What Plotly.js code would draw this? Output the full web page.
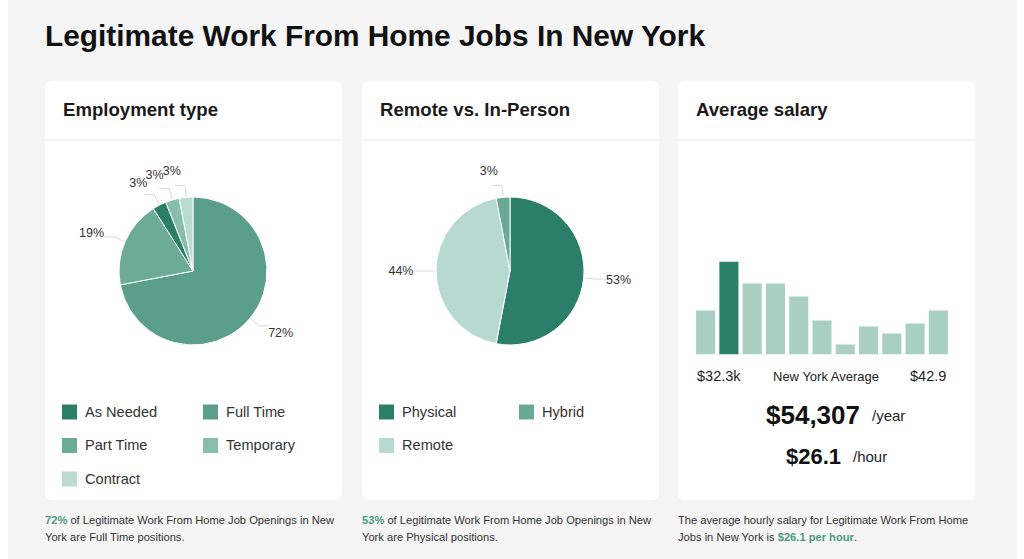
<!DOCTYPE html>
<html>
<head>
<meta charset="utf-8">
<script src="https://cdn.plot.ly/plotly-3.0.1.min.js"></script>
<style>
html,body{margin:0;padding:0;background:#fff;}
#chart{width:1024px;height:559px;}
</style>
</head>
<body>
<div id="chart"></div>
<script>
// ---- data ----
var empLabels = ['Full Time', 'Part Time', 'As Needed', 'Temporary', 'Contract'];
var empValues = [72, 19, 3, 3, 3];
var empColors = ['#5b9e89', '#6cab96', '#2b7f69', '#88bdac', '#b9dbd0'];
var empLegendOrder = ['As Needed', 'Full Time', 'Part Time', 'Temporary', 'Contract'];

var remoteLabels = ['Physical', 'Remote', 'Hybrid'];
var remoteValues = [53, 44, 3];
var remoteColors = ['#2b7f69', '#b8d9cf', '#6aaa94'];
var remoteLegendOrder = ['Physical', 'Hybrid', 'Remote'];

var salaryBins = ['b1','b2','b3','b4','b5','b6','b7','b8','b9','b10','b11'];
var salaryCounts = [44, 93, 71, 71, 58, 34, 10, 28, 21, 31, 44];
var highlightBin = 1;
var salaryMinLabel = '$32.3k';
var salaryMaxLabel = '$42.9';
var salaryYear = '$54,307';
var salaryHour = '$26.1';

// ---- helpers (pixel -> paper) ----
var W = 1024, H = 559;
function px(x){ return x / W; }
function py(y){ return 1 - y / H; }
var FONT = 'Liberation Sans, Arial, Helvetica, sans-serif';

var shapes = [];
var annotations = [];

// page background
shapes.push({type:'rect', xref:'paper', yref:'paper', x0:px(8), x1:px(1017), y0:0, y1:1,
  fillcolor:'#f5f5f5', line:{width:0}, layer:'below'});

function roundRect(x0, y0, x1, y1, r){
  var p = 'M ' + px(x0 + r) + ',' + py(y0) +
    ' L ' + px(x1 - r) + ',' + py(y0) +
    ' Q ' + px(x1) + ',' + py(y0) + ' ' + px(x1) + ',' + py(y0 + r) +
    ' L ' + px(x1) + ',' + py(y1 - r) +
    ' Q ' + px(x1) + ',' + py(y1) + ' ' + px(x1 - r) + ',' + py(y1) +
    ' L ' + px(x0 + r) + ',' + py(y1) +
    ' Q ' + px(x0) + ',' + py(y1) + ' ' + px(x0) + ',' + py(y1 - r) +
    ' L ' + px(x0) + ',' + py(y0 + r) +
    ' Q ' + px(x0) + ',' + py(y0) + ' ' + px(x0 + r) + ',' + py(y0) + ' Z';
  return {type:'path', xref:'paper', yref:'paper', path:p, fillcolor:'#ffffff', line:{width:0}, layer:'below'};
}

var cards = [
  {x0:45, x1:342, title:'Employment type'},
  {x0:362, x1:659, title:'Remote vs. In-Person'},
  {x0:678, x1:975, title:'Average salary'}
];
cards.forEach(function(c){
  shapes.push(roundRect(c.x0, 81, c.x1, 500, 7));
  shapes.push({type:'line', xref:'paper', yref:'paper', x0:px(c.x0), x1:px(c.x1), y0:py(140), y1:py(140),
    line:{color:'#e6e6e6', width:1}, layer:'below'});
  annotations.push({xref:'paper', yref:'paper', x:px(c.x0 + 16), y:py(110), xanchor:'left', yanchor:'middle',
    text:'<b>' + c.title + '</b>', showarrow:false, font:{family:FONT, size:18.6, color:'#1a1a1a'}});
});

// main title
annotations.push({xref:'paper', yref:'paper', x:px(43), y:py(36), xanchor:'left', yanchor:'middle',
  text:'<b>Legitimate Work From Home Jobs In New York</b>', showarrow:false,
  font:{family:FONT, size:29.85, color:'#111111'}});

// legends
function legend(order, labels, colors, xSq, xSq2){
  order.forEach(function(name, i){
    var col = i % 2, row = Math.floor(i / 2);
    var xs = col === 0 ? xSq : xSq2;
    var yc = 412 + row * 33.5;
    var color = colors[labels.indexOf(name)];
    shapes.push({type:'rect', xref:'paper', yref:'paper', x0:px(xs), x1:px(xs + 15), y0:py(yc - 7.5), y1:py(yc + 7.5),
      fillcolor:color, line:{width:0}});
    annotations.push({xref:'paper', yref:'paper', x:px(xs + 21), y:py(yc), xanchor:'left', yanchor:'middle',
      text:name, showarrow:false, font:{family:FONT, size:14.6, color:'#333333'}});
  });
}
legend(empLegendOrder, empLabels, empColors, 62, 203);
legend(remoteLegendOrder, remoteLabels, remoteColors, 379, 519);

// footnotes
function foot(x, lines){
  lines.forEach(function(t, i){
    annotations.push({xref:'paper', yref:'paper', x:px(x), y:py(520 + i * 17), xanchor:'left', yanchor:'middle',
      text:t, showarrow:false, font:{family:FONT, size:11.15, color:'#333333'}});
  });
}
var G = '#4a9c80';
foot(43, ['<b><span style="color:' + G + '">' + empValues[0] + '%</span></b> of Legitimate Work From Home Job Openings in New',
          'York are ' + empLabels[0] + ' positions.']);
foot(360, ['<b><span style="color:' + G + '">' + remoteValues[0] + '%</span></b> of Legitimate Work From Home Job Openings in New',
          'York are ' + remoteLabels[0] + ' positions.']);
foot(676, ['The average hourly salary for Legitimate Work From Home',
          'Jobs in New York is <b><span style="color:' + G + '">' + salaryHour + ' per hour</span></b>.']);

// salary texts
annotations.push({xref:'paper', yref:'paper', x:px(695), y:py(376), xanchor:'left', yanchor:'middle',
  text:salaryMinLabel, showarrow:false, font:{family:FONT, size:14.5, color:'#222222'}});
annotations.push({xref:'paper', yref:'paper', x:px(826), y:py(376), xanchor:'center', yanchor:'middle',
  text:'New York Average', showarrow:false, font:{family:FONT, size:13, color:'#222222'}});
annotations.push({xref:'paper', yref:'paper', x:px(948), y:py(376), xanchor:'right', yanchor:'middle',
  text:salaryMaxLabel, showarrow:false, font:{family:FONT, size:14.5, color:'#222222'}});
annotations.push({xref:'paper', yref:'paper', x:px(862), y:py(415), xanchor:'right', yanchor:'middle',
  text:'<b>' + salaryYear + '</b>', showarrow:false, font:{family:FONT, size:26, color:'#111111'}});
annotations.push({xref:'paper', yref:'paper', x:px(870), y:py(415), xanchor:'left', yanchor:'middle',
  text:'/year', showarrow:false, font:{family:FONT, size:15, color:'#222222'}});
annotations.push({xref:'paper', yref:'paper', x:px(843), y:py(456), xanchor:'right', yanchor:'middle',
  text:'<b>' + salaryHour + '</b>', showarrow:false, font:{family:FONT, size:22, color:'#111111'}});
annotations.push({xref:'paper', yref:'paper', x:px(851), y:py(456), xanchor:'left', yanchor:'middle',
  text:'/hour', showarrow:false, font:{family:FONT, size:15, color:'#222222'}});

// pie traces: visible slices + larger transparent copies, one per slice, carrying the outside % labels
var PIE_R = 74, LABEL_R = 93;
function pieDomain(cx, cy, r){ return {x:[px(cx - r), px(cx + r)], y:[py(cy + r), py(cy - r)]}; }
function leaderLines(values, cx, cy){
  // faint connector from each slice edge toward its label (clockwise from 12 o'clock)
  var total = values.reduce(function(a, b){ return a + b; }, 0), acc = 0;
  values.forEach(function(v){
    var mid = (acc + v / 2) / total * 2 * Math.PI; acc += v;
    var dx = Math.sin(mid), dy = -Math.cos(mid);
    var x0 = cx + dx * (PIE_R + 1), y0 = cy + dy * (PIE_R + 1);
    var x1 = cx + dx * (PIE_R + 12), y1 = cy + dy * (PIE_R + 12);
    var x2 = x1 + (dx >= 0 ? 10 : -10);
    shapes.push({type:'path', xref:'paper', yref:'paper',
      path:'M ' + px(x0) + ',' + py(y0) + ' L ' + px(x1) + ',' + py(y1) + ' L ' + px(x2) + ',' + py(y1),
      line:{color:'#d9d9d9', width:1}});
  });
}
function makePies(labels, values, colors, cx, cy){
  var base = {type:'pie', labels:labels, values:values, sort:false, direction:'clockwise', rotation:0,
    showlegend:false, hoverinfo:'none'};
  var traces = [Object.assign({}, base, {
    marker:{colors:colors, line:{color:'#ffffff', width:1}},
    textinfo:'none', domain:pieDomain(cx, cy, PIE_R)
  })];
  labels.forEach(function(lab, i){
    traces.push(Object.assign({}, base, {
      marker:{colors:labels.map(function(){ return 'rgba(0,0,0,0)'; }), line:{width:0}},
      textposition:labels.map(function(l, j){ return j === i ? 'outside' : 'none'; }),
      texttemplate:'%{percent:.0%}',
      outsidetextfont:{family:FONT, size:12.5, color:'#333333'},
      domain:pieDomain(cx, cy, LABEL_R)
    }));
  });
  leaderLines(values, cx, cy);
  return traces;
}
var pies1 = makePies(empLabels, empValues, empColors, 193, 271);
var pies2 = makePies(remoteLabels, remoteValues, remoteColors, 510, 271);

var barColors = salaryCounts.map(function(v, i){ return i === highlightBin ? '#2b7f69' : '#a8cfc2'; });
var bars = {
  type:'bar', x:salaryBins, y:salaryCounts, marker:{color:barColors, line:{width:0}},
  hoverinfo:'none', showlegend:false, xaxis:'x', yaxis:'y'
};

var layout = {
  width:W, height:H,
  margin:{l:0, r:0, t:0, b:0},
  paper_bgcolor:'#ffffff', plot_bgcolor:'rgba(0,0,0,0)',
  bargap:0.18,
  xaxis:{domain:[px(694), px(950)], showgrid:false, zeroline:false, showticklabels:false, ticks:'', showline:false, fixedrange:true},
  yaxis:{domain:[py(354.5), py(261.5)], range:[0, 93], showgrid:false, zeroline:false, showticklabels:false, ticks:'', showline:false, fixedrange:true},
  shapes:shapes,
  annotations:annotations,
  font:{family:FONT}
};

Plotly.newPlot('chart', pies1.concat(pies2).concat([bars]), layout, {displayModeBar:false, staticPlot:true});
</script>
</body>
</html>
